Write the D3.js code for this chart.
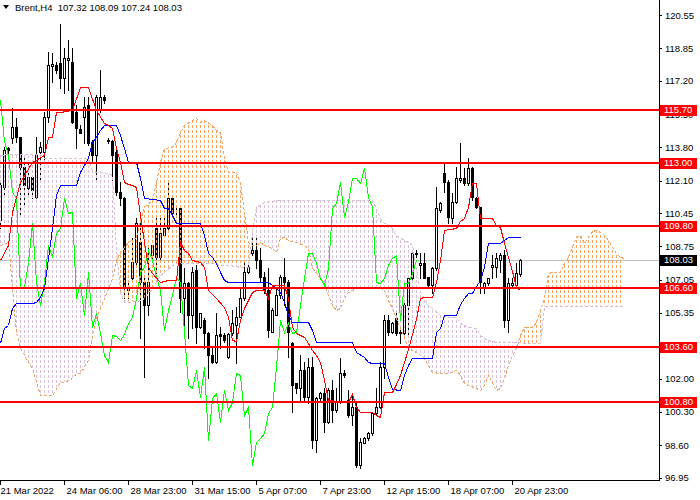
<!DOCTYPE html>
<html><head><meta charset="utf-8">
<script src="https://cdn.jsdelivr.net/npm/d3@7"></script>
<style>
body{margin:0;background:#fff}
svg{display:block;font-family:"Liberation Sans",Arial,sans-serif;font-size:9.5px}
</style>
</head><body>
<svg id="c" width="700" height="500"></svg>
<script>
const symbolLabel = "Brent,H4";
const headerOHLC = [107.32, 108.09, 107.24, 108.03];
const opens = [110.09,111.79,113.75,114.26,114.85,114.34,112.81,111.71,112.30,111.28,113.58,113.58,115.36,117.96,118.00,118.08,117.32,118.25,118.17,115.62,114.72,115.36,115.96,114.09,113.41,115.70,116.38,114.17,114.12,113.58,111.54,111.20,106.52,107.11,107.96,108.99,106.94,105.75,108.30,109.67,108.22,109.33,109.67,111.20,110.52,110.69,106.09,106.86,105.24,107.54,104.65,104.99,104.31,103.20,102.86,104.26,104.22,103.12,104.31,104.73,105.16,106.09,107.45,108.39,108.56,108.05,107.20,106.52,104.39,105.24,106.26,107.20,106.94,103.80,101.76,101.50,102.44,101.08,102.61,98.87,100.99,101.25,99.80,101.42,100.40,100.82,102.27,100.91,100.14,100.57,97.59,98.70,98.95,99.21,100.23,100.57,102.61,104.99,104.39,105.07,104.31,104.31,105.75,107.11,108.36,107.79,107.88,107.20,106.77,107.62,110.60,112.47,112.05,110.18,111.03,112.13,112.22,111.96,112.73,111.20,110.77,106.69,106.86,107.71,107.71,108.05,108.30,104.99,106.77,106.77,107.32];
const highs = [112.05,113.83,113.83,115.79,115.28,114.34,113.24,113.07,112.39,114.34,114.09,115.62,118.68,118.59,118.17,120.07,118.85,119.27,118.85,115.96,114.94,116.38,116.38,114.17,116.47,117.74,116.47,114.26,114.17,113.75,112.05,111.28,106.94,109.16,110.18,109.92,107.28,108.82,108.82,110.18,110.18,110.35,111.96,111.28,110.69,110.77,107.62,106.94,107.71,107.79,105.33,105.07,104.39,103.54,105.33,104.65,104.31,104.31,105.50,105.67,106.60,107.96,107.79,109.16,109.16,108.65,107.45,107.62,105.58,106.69,107.28,108.13,107.03,103.88,101.76,103.20,102.86,103.03,103.12,101.08,101.33,101.50,101.50,101.93,101.50,103.03,102.44,101.42,101.16,100.82,98.95,99.04,99.29,100.31,101.50,102.86,105.24,105.24,104.90,105.33,104.73,105.84,107.20,108.56,108.56,108.39,108.39,107.20,107.71,111.79,111.03,112.98,112.13,111.45,112.81,114.00,112.73,113.24,112.81,111.28,110.77,106.94,107.11,108.30,108.39,108.39,108.56,107.11,107.11,107.88,108.09];
const lows = [109.67,111.28,113.49,114.00,114.09,110.35,110.77,111.37,111.20,111.20,112.13,113.07,115.11,117.15,117.57,116.81,116.55,116.72,115.02,113.75,114.51,114.00,113.92,113.07,112.05,115.62,116.04,114.00,112.13,111.37,110.86,106.09,106.09,106.94,107.79,104.05,102.10,105.24,108.13,107.37,108.05,109.33,109.58,110.35,110.35,105.41,104.56,104.05,104.56,103.80,104.56,103.54,102.01,102.78,102.78,103.54,103.88,103.03,104.22,102.78,105.16,106.01,107.37,108.30,107.62,106.94,106.35,104.14,104.39,105.24,106.09,105.75,103.12,100.31,101.25,100.91,100.91,100.74,98.44,98.27,100.91,99.29,99.72,99.80,100.31,100.74,102.10,100.06,99.63,97.51,97.42,98.70,98.87,99.12,100.14,100.48,102.01,104.22,104.31,104.22,103.80,104.22,104.22,107.03,108.22,107.11,107.11,106.69,106.35,107.54,110.52,111.54,109.92,109.92,110.94,112.05,111.88,111.88,111.11,110.69,106.35,106.35,106.77,107.11,107.20,107.45,104.65,104.39,106.69,106.60,107.24];
const closes = [111.88,113.66,113.66,114.85,114.34,112.81,111.88,112.30,111.62,113.41,113.83,115.36,118.00,118.03,117.74,117.32,118.34,118.34,115.11,114.77,114.55,115.87,114.00,113.41,116.38,116.38,116.21,114.12,113.41,111.54,111.20,106.60,106.69,107.96,109.92,106.94,105.75,106.94,108.82,108.22,109.41,109.67,111.20,110.43,110.48,106.09,106.86,105.24,107.45,104.65,105.33,104.31,103.20,102.86,104.22,104.19,103.97,104.26,104.82,105.16,106.09,107.45,107.71,108.56,108.05,107.20,106.52,104.48,105.50,106.26,107.20,106.94,104.39,101.67,101.50,102.44,101.08,102.61,98.87,100.99,101.25,99.80,101.42,100.40,100.82,102.27,102.18,100.14,100.57,97.59,98.78,98.95,99.21,100.23,100.57,102.61,104.99,104.39,104.82,104.31,104.39,105.75,107.11,108.39,108.42,107.88,107.11,106.77,107.62,110.69,110.94,112.05,110.26,111.03,112.22,112.22,111.96,112.73,111.28,110.77,106.94,106.86,107.11,107.79,108.13,108.30,104.99,106.86,106.86,107.37,108.03];

const tenkanBars = [0,2,3,4,5,8,11,12,13,14,15,18,20,22,24,26,27,28,29,30,31,32,33,34,35,36,37,38,40,42,44,45,46,47,48,50,51,52,54,56,57,58,59,60,61,62,63,64,66,67,68,71,72,73,74,76,77,78,79,80,81,82,86,87,88,89,90,93,94,95,96,98,99,100,101,102,103,104,105,106,108,109,110,111,114,115,116,117,118,119,120,123,124,125,126,127,128,129,130];
const tenkanVals = [108.05,108.82,110.52,111.28,112.05,113.07,113.41,114.34,114.34,115.62,115.62,115.70,116.89,116.89,115.70,115.02,114.94,114.77,113.75,113.07,112.05,111.91,111.88,111.79,110.35,108.99,107.71,107.37,106.94,107.03,107.03,108.99,108.56,108.39,108.05,107.96,107.71,106.52,106.09,105.67,105.16,103.97,103.92,105.00,105.58,106.01,106.43,106.52,106.52,106.09,106.77,106.77,106.09,104.65,104.31,104.14,103.80,103.46,103.20,102.86,101.93,100.91,100.82,100.82,101.20,100.57,100.31,100.31,100.14,100.06,101.33,101.33,101.70,102.20,102.86,103.50,104.30,105.05,106.09,106.18,106.18,106.94,108.05,109.58,109.67,110.05,110.18,110.77,111.96,111.96,110.18,110.18,109.84,109.75,108.90,108.20,107.50,106.65,106.52];

const kijunBars = [0,1,2,3,4,8,9,10,11,12,13,14,15,19,20,22,23,24,25,26,29,30,31,32,34,35,36,40,41,42,43,44,50,51,52,53,54,55,56,57,67,68,69,70,71,72,73,77,78,79,88,89,91,92,93,96,97,98,100,101,102,103,108,109,110,111,114,115,116,117,118,119,120,121,122,125,126,127,130];
const kijunVals = [103.80,104.56,104.73,105.58,105.84,105.84,105.90,106.18,106.60,108.13,109.67,111.37,111.88,111.88,112.56,113.24,114.09,114.34,114.68,114.94,114.94,114.43,113.75,113.07,113.07,112.22,111.20,111.11,110.69,110.69,110.35,109.92,109.92,109.33,108.39,108.22,107.88,107.45,107.03,106.94,106.94,106.77,106.60,106.43,105.92,105.24,104.90,104.90,104.48,103.88,103.88,103.37,103.12,102.86,102.78,102.78,102.10,101.45,101.42,102.18,102.69,103.03,103.03,104.39,104.56,105.24,105.24,105.80,106.09,106.38,106.38,106.70,107.03,107.71,108.90,108.90,109.07,109.24,109.24];

const cloudBars = [0,2,4,5,8,10,11,13,15,16,18,19,20,22,23,24,25,27,28,29,30,31,32,34,35,36,38,39,40,41,43,44,45,46,48,49,50,51,53,54,55,56,57,59,60,61,62,63,64,65,66,68,69,70,71,72,74,76,77,78,79,80,81,82,83,84,85,86,87,89,93,94,95,96,97,98,99,100,101,102,103,104,105,106,107,108,110,112,114,115,116,117,119,120,121,122,124,125,126,127,128,129,130,131,133,134,135,136,137,138,140,141,142,143,144,145,146,147,148,149,150,151,152,153,154,155,156];
const senkouA = [108.82,108.99,104.39,103.54,102.52,101.16,101.16,101.16,101.84,101.84,102.01,102.27,102.27,102.95,104.22,105.07,105.58,106.60,107.11,108.05,108.47,108.73,108.99,109.24,110.09,110.77,111.11,112.05,113.07,113.75,113.83,114.09,114.60,114.94,115.19,115.28,115.11,115.19,114.94,114.68,114.60,113.24,112.56,112.56,111.96,110.52,108.99,108.82,108.82,108.99,108.82,108.65,108.47,109.16,109.24,109.07,108.99,108.82,108.65,107.62,107.37,107.11,106.94,106.26,105.75,105.50,105.58,106.09,106.43,106.60,106.60,106.60,106.69,106.52,106.01,105.58,105.07,104.56,104.14,103.54,103.46,103.37,103.20,103.03,102.69,102.35,102.27,102.27,102.44,102.18,101.76,101.67,101.50,101.42,101.67,102.18,101.42,101.50,102.01,102.69,103.20,103.54,104.22,104.65,104.65,104.90,105.50,106.09,107.37,107.45,107.45,107.88,108.22,108.73,109.24,109.33,108.90,109.24,109.53,109.58,109.50,109.33,109.07,108.73,108.39,108.22,108.13];
const senkouB = [113.41,113.44,113.44,113.44,113.44,113.44,113.24,113.24,113.24,113.24,113.24,113.24,113.24,113.24,112.64,112.56,112.56,112.47,112.39,108.65,106.43,105.92,105.92,105.96,106.01,106.09,106.60,106.94,107.28,107.45,107.79,107.88,107.88,107.88,107.88,107.88,107.88,107.88,107.88,107.83,107.79,107.79,107.79,107.76,107.71,107.71,107.71,109.50,110.77,110.86,111.03,111.06,111.11,111.11,111.11,111.11,111.11,111.11,111.11,111.11,111.11,111.11,111.11,111.11,111.11,111.11,111.11,111.11,111.11,111.11,111.11,110.69,110.18,109.92,109.84,109.67,109.33,109.16,109.07,108.99,108.82,107.62,106.43,106.09,105.75,105.58,105.24,105.16,105.16,104.82,104.73,104.65,104.56,104.22,104.05,103.97,103.88,103.88,103.88,103.88,103.88,103.88,103.88,103.80,103.80,103.80,103.80,105.72,105.72,105.72,105.72,105.72,105.72,105.72,105.72,105.72,105.72,105.72,105.72,105.72,105.72,105.72,105.72,105.72,105.72,105.72,105.72];
const chikouShift = 26;

const levels = [115.70, 113.00, 109.80, 106.60, 103.60, 100.80];
const lastPrice = 108.03;
const yTicks = [120.55,118.85,117.20,115.50,113.80,112.10,110.45,108.75,107.05,105.35,103.65,102.00,100.30,98.60,96.95];
const xTickBars = [0,16,32,48,64,80,96,112,128];
const xTickLabels = ["21 Mar 2022","24 Mar 06:00","28 Mar 23:00","31 Mar 15:00","5 Apr 07:00","7 Apr 23:00","12 Apr 15:00","18 Apr 07:00","20 Apr 23:00"];

const plotR = 659, plotB = 480;
const x = d3.scaleLinear().domain([0, 164.75]).range([0, plotR]);
const y = d3.scaleLinear().domain([96.95, 120.55]).range([477.6, 15]);
const Y = v => Math.round(y(v));
const X = i => Math.round(x(i));

const svg = d3.select("#c");
const defs = svg.append("defs");
defs.append("clipPath").attr("id","plot").append("rect").attr("x",0).attr("y",0).attr("width",plotR).attr("height",plotB);
function hatch(id, col){
  const p = defs.append("pattern").attr("id",id).attr("patternUnits","userSpaceOnUse").attr("width",4).attr("height",5);
  p.append("rect").attr("x",0).attr("y",0).attr("width",1).attr("height",3).attr("fill",col).attr("shape-rendering","crispEdges");
}
hatch("hO","#f4a460");
hatch("hP","#d8bfd8");

const cloud = cloudBars.map((b,k)=>({b, a:senkouA[k], s:senkouB[k]}));
defs.append("clipPath").attr("id","aboveB").append("path")
  .attr("d", d3.area().x(d=>x(d.b)).y0(d=>y(d.s)).y1(0)(cloud));
defs.append("clipPath").attr("id","belowB").append("path")
  .attr("d", d3.area().x(d=>x(d.b)).y0(d=>y(d.s)).y1(plotB)(cloud));

const g = svg.append("g").attr("clip-path","url(#plot)");

// last price line
g.append("line").attr("x1",0).attr("x2",plotR).attr("y1",Y(lastPrice)+0.5).attr("y2",Y(lastPrice)+0.5)
  .attr("stroke","#c0c0c0").attr("shape-rendering","crispEdges");

// candles
const idx = d3.range(opens.length);
const cg = g.append("g").attr("shape-rendering","crispEdges");
cg.selectAll("line.w").data(idx).join("line").attr("class","w")
  .attr("x1",i=>X(i)+0.5).attr("x2",i=>X(i)+0.5)
  .attr("y1",i=>Y(highs[i])).attr("y2",i=>Y(lows[i])+1)
  .attr("stroke","#000");
cg.selectAll("rect.b").data(idx).join("rect").attr("class","b")
  .attr("x",i=>X(i)-0.5).attr("width",2)
  .attr("y",i=>Math.min(Y(opens[i]),Y(closes[i]))+0.5)
  .attr("height",i=>Math.abs(Y(opens[i])-Y(closes[i])))
  .attr("fill",i=>closes[i]>=opens[i]?"#fff":"#000")
  .attr("stroke","#000");

// cloud hatch
const between = d3.area().x(d=>x(d.b)).y0(d=>y(d.a)).y1(d=>y(d.s));
g.append("g").attr("clip-path","url(#aboveB)").append("path").attr("d",between(cloud)).attr("fill","url(#hO)");
g.append("g").attr("clip-path","url(#belowB)").append("path").attr("d",between(cloud)).attr("fill","url(#hP)");

const lineFn = d3.line().x(d=>X(d[0])+0.5).y(d=>Y(d[1])+0.5);
g.append("path").attr("d",lineFn(cloud.map(d=>[d.b,d.a]))).attr("fill","none").attr("stroke","#f4a460").attr("stroke-dasharray","3,2").attr("shape-rendering","crispEdges");
g.append("path").attr("d",lineFn(cloud.map(d=>[d.b,d.s]))).attr("fill","none").attr("stroke","#d8bfd8").attr("stroke-dasharray","3,2").attr("shape-rendering","crispEdges");

// chikou, kijun, tenkan
const chikou = closes.slice(chikouShift).map((c,k)=>[k,c]);
g.append("path").attr("d",lineFn(chikou)).attr("fill","none").attr("stroke","#00ff00").attr("shape-rendering","crispEdges");
g.append("path").attr("d",lineFn(kijunBars.map((b,k)=>[b,kijunVals[k]]))).attr("fill","none").attr("stroke","#0000ff").attr("shape-rendering","crispEdges");
g.append("path").attr("d",lineFn(tenkanBars.map((b,k)=>[b,tenkanVals[k]]))).attr("fill","none").attr("stroke","#ff0000").attr("shape-rendering","crispEdges");

// horizontal levels
g.selectAll("line.lv").data(levels).join("line").attr("class","lv")
  .attr("x1",0).attr("x2",plotR).attr("y1",d=>Y(d)).attr("y2",d=>Y(d))
  .attr("stroke","#ff0000").attr("stroke-width",2).attr("shape-rendering","crispEdges");

// axes
svg.append("line").attr("x1",plotR+0.5).attr("x2",plotR+0.5).attr("y1",0).attr("y2",plotB+1).attr("stroke","#000").attr("shape-rendering","crispEdges");
svg.append("line").attr("x1",0).attr("x2",plotR+1).attr("y1",plotB+0.5).attr("y2",plotB+0.5).attr("stroke","#000").attr("shape-rendering","crispEdges");

const yAx = svg.append("g").attr("transform",`translate(${plotR},0)`)
  .call(d3.axisRight(y).tickValues(yTicks).tickSize(3).tickPadding(3).tickFormat(d3.format(".2f")));
yAx.select(".domain").remove();
yAx.attr("font-family",null).attr("font-size",null);
yAx.selectAll("line").attr("shape-rendering","crispEdges");
yAx.selectAll("text").attr("fill","#000");

const xAx = svg.append("g").attr("transform",`translate(0,${plotB})`)
  .call(d3.axisBottom(x).tickValues(xTickBars).tickSize(5).tickFormat((d,k)=>xTickLabels[k]));
xAx.select(".domain").remove();
xAx.attr("font-family",null).attr("font-size",null);
xAx.selectAll("line").attr("shape-rendering","crispEdges");
xAx.selectAll("text").attr("text-anchor","start").attr("dx",(d,k)=>k===0?0:2).attr("y",7).attr("fill","#000");

// level labels
function tag(v, col){
  const yy = Y(v);
  svg.append("rect").attr("x",660).attr("y",yy-5).attr("width",37).attr("height",11).attr("fill",col);
  svg.append("text").attr("x",664).attr("y",yy).attr("dy","0.36em").attr("fill","#fff").text(d3.format(".2f")(v));
}
levels.forEach(v=>tag(v,"#ff0000"));
tag(lastPrice,"#000");

// title
svg.append("path").attr("d","M3,5L9,5L6,9Z").attr("fill","#000");
svg.append("text").attr("x",15).attr("y",11).attr("fill","#000").style("white-space","pre")
  .text(symbolLabel + "  " + headerOHLC.map(d3.format(".2f")).join(" "));
</script>
</body></html>
